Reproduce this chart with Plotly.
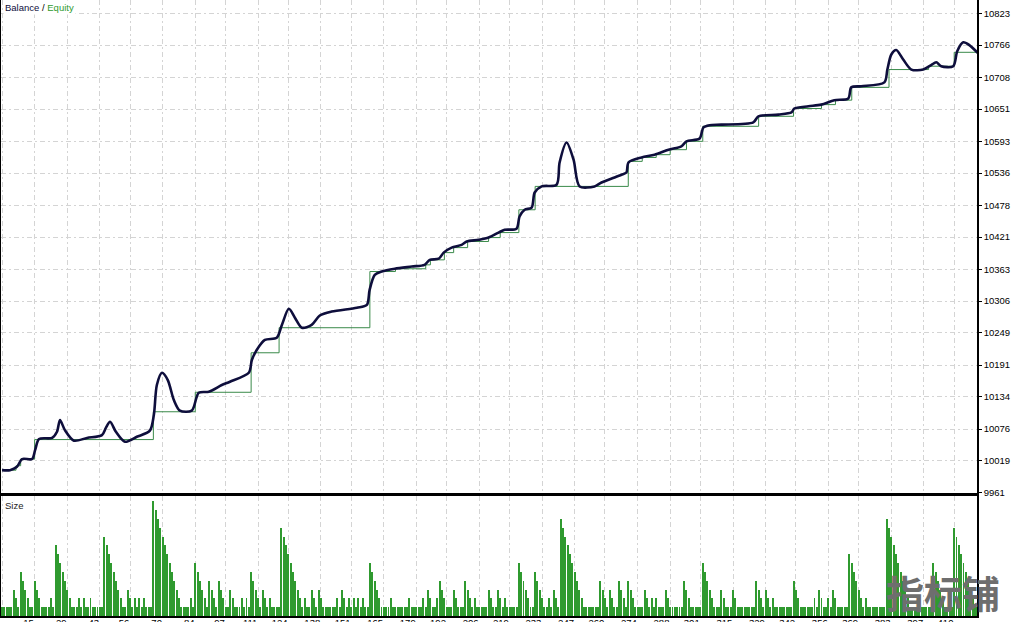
import plotly.graph_objects as go

# equity curve (thick dark line), deal number -> account value
eq_deal = [1, 4.4, 7.4, 9.6, 13.9, 15.2, 16.9, 22.5, 24.6, 25.9, 28, 31.9, 37.5, 43.9,
           45.6, 47.4, 49.9, 53.8, 58.9, 64.5, 66.2, 67.5, 69.7, 72.2, 74.8, 77.4, 82.5,
           85.5, 89.8, 95.4, 98.9, 107, 108.3, 110.4, 113.9, 119, 121.2, 124.2, 126.8,
           129.8, 134, 137.5, 142.6, 153.4, 157.7, 158.9, 161.1, 164.1, 169.7, 177, 182.5,
           184.7, 188.6, 190.7, 194.1, 198.4, 200.6, 205.7, 210, 214.3, 216.9, 222, 223.3,
           225.5, 228.5, 229.8, 232.8, 239.2, 240.5, 243.5, 246.5, 249.1, 255.5, 258.5,
           264.1, 267.1, 269.2, 270.1, 275.7, 281.3, 287.3, 292.8, 295, 300.6, 302.3,
           304.9, 310, 323.7, 325.9, 334.5, 340.1, 341.3, 347.4, 352.9, 358.5, 364.5,
           365.8, 370.1, 380, 381.3, 383, 385.1, 388.1, 391.6, 396.7, 400.1, 402.3, 404.4,
           409.6, 411.3, 413.9, 416.5, 420.3]
eq_value = [10002, 10002, 10008, 10022, 10022, 10038, 10058, 10060, 10071, 10092, 10074,
            10055, 10060, 10065, 10078, 10089, 10071, 10053, 10062, 10073, 10101, 10155,
            10177, 10164, 10128, 10109, 10109, 10141, 10143, 10155, 10161, 10177, 10200,
            10218, 10236, 10240, 10263, 10292, 10276, 10258, 10263, 10280, 10287, 10294,
            10299, 10326, 10353, 10359, 10364, 10368, 10371, 10380, 10382, 10393, 10402,
            10407, 10413, 10416, 10420, 10429, 10434, 10436, 10458, 10470, 10474, 10501,
            10512, 10515, 10555, 10591, 10560, 10512, 10512, 10519, 10528, 10533, 10537,
            10555, 10564, 10569, 10578, 10584, 10593, 10598, 10618, 10622, 10623, 10627,
            10638, 10641, 10645, 10652, 10656, 10659, 10667, 10670, 10690, 10692, 10699,
            10722, 10749, 10757, 10740, 10722, 10722, 10730, 10735, 10728, 10728, 10755,
            10771, 10766, 10751]

# closed-deal curve (thin green step line)
st_deal = [1, 7, 9, 15, 66, 84, 108, 120, 159, 170, 183, 185, 191, 195, 201, 210, 215,
           223, 230, 270, 276, 282, 288, 295, 302, 326, 341, 353, 359, 366, 382, 399, 410, 420]
st_value = [10002, 10010, 10022, 10057, 10107, 10142, 10213, 10258, 10359, 10364, 10371,
            10380, 10393, 10402, 10413, 10420, 10429, 10470, 10512, 10557, 10564, 10569,
            10578, 10593, 10620, 10638, 10652, 10659, 10667, 10690, 10722, 10728, 10753, 10753]

# lot size per deal
size_values = [
    1, 1, 1, 1, 1, 3, 2, 1, 5, 4, 3, 2, 1, 1, 4, 3, 2, 1, 1, 1,
    1, 2, 1, 8, 7, 6, 5, 4, 3, 2, 1, 1, 1, 2, 1, 2, 1, 1, 2, 1,
    1, 1, 1, 1, 9, 8, 7, 6, 5, 4, 3, 2, 1, 1, 3, 2, 1, 2, 1, 2,
    1, 2, 1, 1, 1, 13, 12, 11, 10, 9, 8, 7, 6, 5, 4, 3, 2, 1, 1, 1,
    1, 2, 1, 6, 5, 4, 3, 2, 1, 4, 3, 2, 1, 4, 3, 2, 1, 1, 3, 2,
    1, 1, 1, 2, 1, 2, 1, 5, 4, 3, 2, 1, 3, 2, 1, 2, 1, 1, 1, 1,
    10, 9, 8, 7, 6, 5, 4, 3, 2, 1, 2, 1, 1, 3, 2, 1, 3, 2, 1, 1,
    1, 1, 1, 1, 2, 1, 3, 2, 1, 2, 1, 2, 1, 2, 1, 2, 1, 1, 6, 5,
    4, 3, 2, 1, 1, 1, 1, 2, 1, 1, 1, 1, 1, 1, 1, 2, 1, 1, 1, 1,
    1, 2, 1, 3, 2, 1, 1, 2, 4, 3, 2, 1, 1, 1, 3, 2, 1, 1, 1, 4,
    3, 2, 1, 2, 1, 1, 1, 1, 1, 3, 2, 1, 1, 3, 2, 1, 2, 1, 1, 1,
    1, 1, 6, 5, 4, 3, 2, 1, 1, 5, 4, 3, 2, 1, 1, 2, 1, 3, 2, 1,
    11, 10, 9, 8, 7, 6, 5, 4, 3, 2, 1, 1, 1, 1, 1, 1, 1, 4, 3, 2,
    1, 3, 2, 1, 1, 4, 3, 2, 1, 4, 3, 2, 1, 1, 1, 1, 3, 2, 1, 2,
    1, 2, 1, 1, 1, 3, 2, 1, 1, 1, 1, 1, 1, 4, 3, 2, 1, 1, 1, 1,
    1, 6, 5, 4, 3, 2, 1, 1, 1, 3, 2, 1, 1, 1, 3, 2, 1, 1, 1, 1,
    1, 1, 1, 1, 4, 3, 2, 1, 3, 2, 1, 2, 1, 1, 1, 1, 1, 1, 1, 1,
    4, 3, 2, 1, 1, 1, 1, 1, 1, 2, 1, 3, 2, 1, 1, 2, 1, 3, 2, 1,
    1, 1, 1, 1, 7, 6, 5, 4, 3, 2, 1, 2, 1, 1, 1, 1, 1, 1, 1, 1,
    11, 10, 9, 8, 7, 6, 5, 4, 3, 2, 1, 1, 1, 1, 1, 1, 1, 1, 1, 1,
    6, 5, 4, 3, 2, 1, 1, 1, 1, 10, 9, 8, 7, 6, 5, 4, 3, 2, 1, 1,
]
deals = list(range(1, len(size_values) + 1))

y_ticks = [9961, 10019, 10076, 10134, 10191, 10249, 10306, 10363, 10421, 10478,
           10536, 10593, 10651, 10708, 10766, 10823]
x_ticks = [1, 15, 29, 43, 56, 70, 84, 97, 111, 124, 138, 151, 165, 179, 192, 206, 219,
           233, 247, 260, 274, 288, 301, 315, 329, 342, 356, 369, 383, 397, 410]

NAVY = "#0e0e3c"
GREEN = "#2f9a2f"
GRID = "#d4d4d4"
FONT = "Liberation Sans"
DASH = "5px,3px,2px,3px"

fig = go.Figure()
fig.add_trace(go.Scatter(x=st_deal, y=st_value, mode="lines", line_shape="hv",
                         line=dict(color="#3a8a4a", width=1), xaxis="x", yaxis="y",
                         name="Equity", hoverinfo="skip"))
fig.add_trace(go.Scatter(x=eq_deal, y=eq_value, mode="lines", line_shape="spline",
                         line=dict(color=NAVY, width=2.6, smoothing=0.8), xaxis="x", yaxis="y",
                         name="Balance"))
fig.add_trace(go.Bar(x=deals, y=size_values, marker=dict(color=GREEN, line_width=0),
                     width=0.42, xaxis="x2", yaxis="y2", name="Size"))

x_common = dict(range=[0.55, 419.8], tickvals=x_ticks, showgrid=True, gridcolor=GRID,
                griddash=DASH, gridwidth=1, zeroline=False, showline=True,
                linecolor="black", linewidth=1.5, automargin=False)

fig.update_layout(
    width=1014, height=622,
    margin=dict(l=1, r=37, t=0, b=6),
    paper_bgcolor="white", plot_bgcolor="white",
    showlegend=False, bargap=0,
    font=dict(family=FONT, size=10, color="black"),
    xaxis=dict(domain=[0, 1], anchor="y", showticklabels=False, ticks="", **x_common),
    xaxis2=dict(domain=[0, 1], anchor="y2", matches="x", mirror=True, ticks="",
                ticktext=[str(v) for v in x_ticks], ticklabelposition="outside left",
                ticklabelstandoff=-3, tickfont=dict(family=FONT, size=9.5), **x_common),
    yaxis=dict(domain=[0.1997, 1], anchor="x", side="right", range=[9961, 10847],
               tickvals=y_ticks, ticktext=[str(v) for v in y_ticks],
               tickfont=dict(family=FONT, size=9.5), ticks="outside", ticklen=3,
               tickcolor="black", showgrid=True, gridcolor=GRID, griddash=DASH,
               zeroline=False, showline=True, mirror=True, linecolor="black",
               linewidth=1.5, automargin=False),
    yaxis2=dict(domain=[0, 0.1948], anchor="x2", side="right", range=[0, 13.6],
                showticklabels=False, showgrid=False, zeroline=False, showline=True,
                mirror=True, linecolor="black", linewidth=1.5, ticks="",
                automargin=False),
    annotations=[
        dict(xref="paper", yref="paper", x=0.002, y=1, xanchor="left", yanchor="top",
             text=f'<span style="color:{NAVY}">Balance</span> / '
                  f'<span style="color:{GREEN}">Equity</span>',
             showarrow=False, bgcolor="white", font=dict(family=FONT, size=9.5),
             borderpad=1),
        dict(xref="paper", yref="paper", x=0.002, y=0.1948, xanchor="left", yanchor="top",
             yshift=-2, text="Size", showarrow=False, bgcolor="white",
             font=dict(family=FONT, size=9.5, color="#222222"), borderpad=1),
        dict(xref="paper", yref="paper", x=0.965, y=0.04, xanchor="center",
             yanchor="middle", text="<b>指标铺</b>", showarrow=False,
             font=dict(family="Noto Sans CJK SC", size=38, color="#6e6e6e")),
    ],
)

# page body has a default 8px margin; drop it so the figure sits at the corner
fig.write_html("out.html", config={"displayModeBar": False},
               post_script="document.body.style.margin='0';")
